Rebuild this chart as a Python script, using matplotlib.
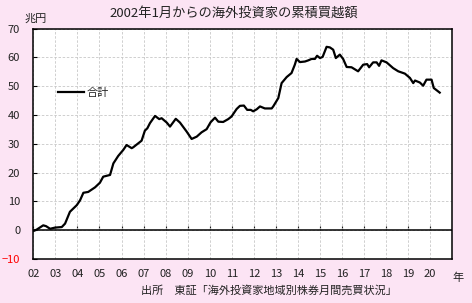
import matplotlib
matplotlib.use("Agg")
import matplotlib.pyplot as plt

plt.rcParams['font.family'] = ['Noto Sans CJK JP', 'DejaVu Sans']

# cumulative net purchases by foreign investors (trillion yen)
years = [2002.03, 2002.15, 2002.45, 2002.58, 2002.76, 2002.98, 2003.29, 2003.44,
         2003.66, 2003.97, 2004.12, 2004.27, 2004.49, 2004.80, 2005.02, 2005.17,
         2005.48, 2005.63, 2005.85, 2006.08, 2006.23, 2006.46, 2006.53, 2006.91,
         2007.06, 2007.17, 2007.29, 2007.52, 2007.71, 2007.82, 2008.05, 2008.20,
         2008.46, 2008.65, 2008.95, 2009.18, 2009.41, 2009.63, 2009.86, 2010.04,
         2010.24, 2010.39, 2010.61, 2010.84, 2010.99, 2011.22, 2011.37, 2011.55,
         2011.70, 2011.86, 2011.97, 2012.13, 2012.28, 2012.50, 2012.81, 2012.88,
         2013.11, 2013.26, 2013.49, 2013.71, 2013.86, 2013.94, 2014.09, 2014.32,
         2014.47, 2014.62, 2014.77, 2014.87, 2015.00, 2015.12, 2015.30, 2015.45,
         2015.60, 2015.72, 2015.90, 2016.05, 2016.21, 2016.43, 2016.73, 2016.96,
         2017.14, 2017.23, 2017.41, 2017.57, 2017.68, 2017.79, 2018.02, 2018.32,
         2018.55, 2018.85, 2019.08, 2019.23, 2019.31, 2019.53, 2019.68, 2019.83,
         2020.06, 2020.16, 2020.43]
total = [-0.2, 0.2, 1.7, 1.4, 0.5, 0.9, 1.1, 2.3,
         6.4, 8.7, 10.4, 13.0, 13.3, 14.9, 16.5, 18.6,
         19.2, 23.2, 25.8, 27.9, 29.6, 28.5, 28.8, 31.1,
         34.6, 35.4, 37.2, 39.7, 38.6, 38.9, 37.4, 36.0,
         38.7, 37.4, 34.3, 31.7, 32.5, 34.0, 35.1, 37.5,
         39.1, 37.7, 37.6, 38.6, 39.5, 42.1, 43.2, 43.3,
         41.8, 41.8, 41.3, 42.0, 43.0, 42.3, 42.3, 43.0,
         45.9, 51.1, 53.2, 54.6, 57.5, 59.5, 58.4, 58.6,
         59.0, 59.5, 59.5, 60.6, 59.8, 60.2, 63.7, 63.5,
         62.7, 59.8, 61.0, 59.5, 56.7, 56.6, 55.2, 57.5,
         57.7, 56.6, 58.3, 58.3, 57.1, 59.0, 58.3, 56.3,
         55.2, 54.4, 52.9, 51.1, 52.0, 51.3, 50.2, 52.3,
         52.3, 49.4, 47.8]

tick_years = list(range(2002, 2021))
tick_labels = [f"{y % 100:02d}" for y in tick_years]
y_ticks = list(range(-10, 71, 10))

bg = '#fce4f4'
txt = '#222222'

fig = plt.figure(figsize=(4.72, 3.03), dpi=100, facecolor=bg)
ax = fig.add_axes([0.0706, 0.1452, 0.8876, 0.7601])
ax.set_facecolor('white')

ax.plot(years, total, color='black', lw=1.6, label='合計', solid_joinstyle='round',
        zorder=3)

ax.set_xlim(2002, 2021)
ax.set_ylim(-10, 70)
ax.set_xticks(tick_years)
ax.set_xticklabels(tick_labels)
ax.set_yticks(y_ticks)
ax.grid(True, color='#c8c8c8', ls=(0, (3, 2)), lw=0.6)
ax.set_axisbelow(True)

for s in ax.spines.values():
    s.set_color('black')
    s.set_linewidth(1.1)

ax.tick_params(axis='x', length=0, pad=7, labelsize=8, labelcolor=txt)
ax.tick_params(axis='y', direction='in', length=3, width=0.8, pad=9.5,
               labelsize=8, labelcolor=txt)
for lab in ax.get_yticklabels():
    if lab.get_text().replace('−', '-') == '-10':
        lab.set_color('red')

# zero line with small upward tick marks
ax.axhline(0, color='black', lw=1.1, zorder=2)
zero = ax.secondary_xaxis(10 / 80)
zero.set_xticks(tick_years)
zero.tick_params(direction='in', length=3, width=0.8, labelbottom=False,
                 labeltop=False)
for s in zero.spines.values():
    s.set_visible(False)

ax.legend(loc='center left', bbox_to_anchor=(0.058, 0.72), frameon=False,
          fontsize=8, handlelength=2.4, handletextpad=0.2, borderpad=0,
          borderaxespad=0, labelcolor=txt)

fig.text(0.495, 0.957, '2002年1月からの海外投資家の累積買越額', ha='center',
         va='center', fontsize=9.5, color=txt)
fig.text(36 / 472, 1 - 19 / 303, '兆円', ha='center', va='center',
         fontsize=8, color=txt)
fig.text(458 / 472, 1 - 278 / 303, '年', ha='center', va='center',
         fontsize=8, color=txt)
fig.text(0.569, 0.043, '出所　東証「海外投資家地域別株券月間売買状況」',
         ha='center', va='center', fontsize=8, color=txt)

fig.savefig('out.png', dpi=100, facecolor=bg)
